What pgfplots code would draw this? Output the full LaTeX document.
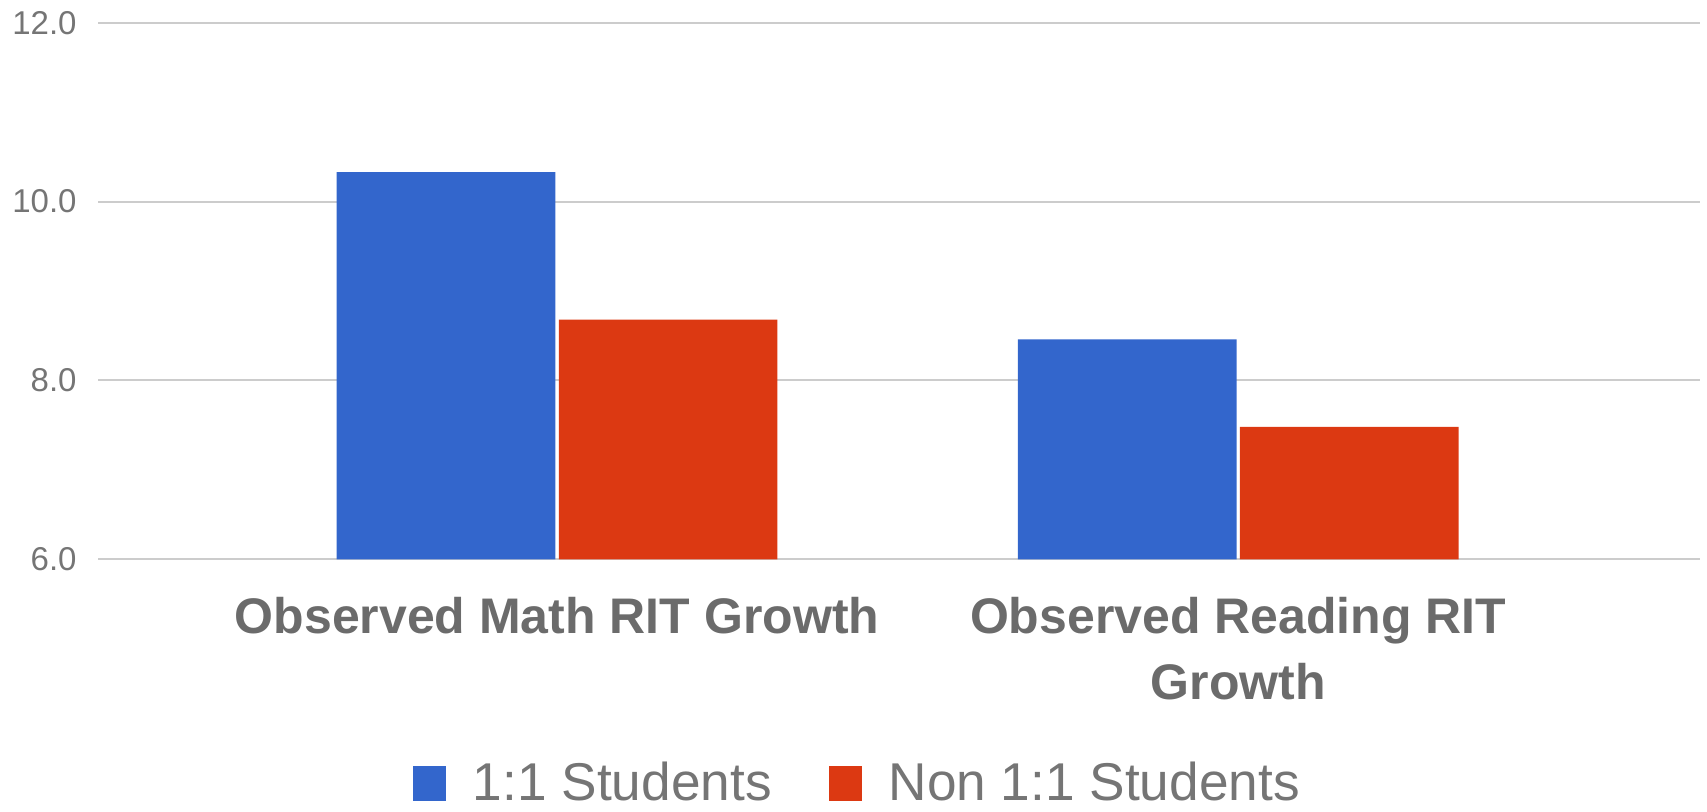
\documentclass[border=0pt]{standalone}
\usepackage{pgfplots}
\pgfplotsset{compat=1.18}
\usepackage{fontspec}
\setmainfont{Liberation Sans}
\definecolor{gblue}{HTML}{3366CC}
\definecolor{gred}{HTML}{DC3912}
\definecolor{gridgray}{HTML}{CCCCCC}
\definecolor{ticktext}{HTML}{757575}
\definecolor{labeltext}{HTML}{6B6B6B}
\begin{document}
\begin{tikzpicture}
\useasboundingbox (0,0) rectangle (853.5pt,405.5pt);
\begin{axis}[
    at={(49pt,125.85pt)}, anchor=south west,
    width=801pt, height=268.3pt, scale only axis,
    ymin=6, ymax=12, ytick={6,8,10,12},
    xmin=-0.674, xmax=1.678, xtick={0,1},
    xticklabels={Observed Math RIT Growth, {Observed Reading RIT\\Growth}},
    axis line style={draw=none},
    major tick length=0pt,
    ymajorgrids, grid style={gridgray, line width=1pt},
    /pgf/number format/.cd, fixed, fixed zerofill, precision=1, assume math mode=true,
    /pgfplots/.cd,
    yticklabel style={font=\fontsize{16.5}{20}\selectfont, text=ticktext, anchor=east, inner sep=0pt, xshift=-10.5pt},
    xticklabel style={font=\bfseries\fontsize{25}{33}\selectfont, text=labeltext, align=center, anchor=north, inner sep=0pt, yshift=-18.9pt},
    legend columns=2,
    legend image code/.code={\fill[#1] (0pt,0pt) rectangle (16.5pt,17.5pt);},
    legend style={at={(0.1966,-0.4165)}, anchor=west, draw=none, inner sep=0pt, outer sep=0pt,
        font=\fontsize{26.6}{30}\selectfont, text=ticktext,
        nodes={inner sep=0pt, anchor=base west},
        /tikz/every odd column/.append style={column sep=13.5pt},
        /tikz/every even column/.append style={column sep=28.5pt}},
]
\addplot[ybar, bar width=0.321, bar shift=-0.163, fill=gblue, draw=none]
    coordinates {(0,10.33) (1,8.46)};
\addlegendentry{1:1 Students}
\addplot[ybar, bar width=0.321, bar shift=0.163, fill=gred, draw=none]
    coordinates {(0,8.68) (1,7.48)};
\addlegendentry{Non 1:1 Students}
\end{axis}
\end{tikzpicture}
\end{document}
